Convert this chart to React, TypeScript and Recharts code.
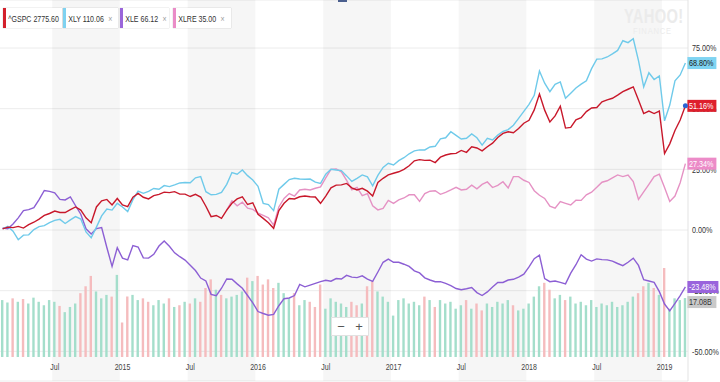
import {
  ComposedChart,
  Line,
  Bar,
  Cell,
  XAxis,
  YAxis,
  CartesianGrid,
  ReferenceArea,
  ReferenceDot,
} from "recharts";

// Biweekly closes from 2014-02-14, % change since start
const startDate = Date.UTC(2014, 1, 14);
const stepMs = 14 * 86400000;

const gspc = [
  0.5, 1.2, 1.0, 1.5, 0.8, 2.2, 3.2, 4.5, 6.0, 6.8,
  7.8, 7.2, 7.2, 8.4, 9.5, 8.2, 5.0, 3.0, 9.5, 12.0,
  12.6, 10.3, 13.0, 10.3, 9.6, 13.5, 15.1, 13.5, 12.8, 14.2,
  14.7, 15.6, 15.4, 15.8, 14.8, 14.8, 13.8, 14.7, 13.6, 9.8,
  5.5, 6.0, 4.8, 8.2, 11.0, 12.8, 13.7, 10.5, 11.2, 6.5,
  4.8, 3.0, 0.7, 8.0, 11.0, 13.0, 12.8, 13.7, 14.0, 13.7,
  13.6, 11.0, 14.0, 17.4, 18.5, 18.6, 19.2, 17.4, 16.5, 17.2,
  16.0, 14.0, 19.6, 21.3, 22.7, 23.4, 24.0, 25.0, 26.5, 28.5,
  29.0, 28.7, 28.8, 27.8, 30.0, 30.9, 31.4, 31.6, 32.8, 32.0,
  34.3, 33.8, 32.6, 34.3, 35.8, 38.1, 39.8, 40.5, 40.1, 41.8,
  44.0, 45.2, 49.5, 56.0, 49.4, 44.5, 47.0, 51.0, 42.0, 42.3,
  45.4, 46.3, 48.8, 50.3, 50.5, 52.8, 53.6, 54.3, 55.6, 57.0,
  58.0, 59.0, 53.6, 48.0, 49.0, 48.0, 49.0, 31.5, 35.5, 41.0,
  45.3, 51.16,
];

const xly = [
  0.5, 1.5, -0.5, -4.0, -2.1, -2.0, 0.2, 1.4, 1.8, 3.0,
  4.0, 4.4, 2.7, 4.2, 5.5, 4.5, -0.8, -3.2, 1.2, 5.8,
  8.6, 8.2, 11.0, 9.5, 7.6, 12.5, 16.0, 15.1, 15.9, 17.1,
  16.8, 18.3, 17.9, 18.6, 19.4, 19.6, 19.5, 21.5, 22.0, 15.8,
  14.5, 14.7, 15.5, 18.8, 23.7, 23.0, 24.7, 22.4, 20.6, 18.0,
  11.0, 10.5, 8.0, 16.8, 18.8, 20.8, 21.3, 21.0, 20.9, 21.0,
  19.7, 19.2, 23.0, 25.0, 24.7, 24.5, 22.3, 20.0, 21.3, 22.7,
  21.9, 18.2, 22.5, 25.8, 27.5, 26.8, 28.6, 29.8, 31.4, 32.6,
  33.0, 33.0, 34.2, 34.5, 37.6, 38.0, 40.5, 39.0, 37.5, 37.8,
  39.6, 38.0, 35.0, 37.8, 37.1, 39.1, 40.6, 41.4, 43.2, 46.0,
  48.9, 51.8, 55.5, 65.5, 60.5, 57.0, 60.0, 61.0, 54.3, 56.4,
  58.5, 60.1, 61.5, 66.5, 70.4, 70.5, 71.3, 72.6, 74.0, 78.0,
  77.2, 78.8, 69.8, 59.0, 64.8, 62.0, 63.5, 45.0, 51.5, 61.5,
  63.9, 68.8,
];

const xle = [
  0.8, 0.5, 2.5, 5.0, 8.0, 8.4, 9.2, 12.5, 16.3, 15.9,
  15.3, 12.6, 12.4, 13.6, 10.0, 6.5, 0.5, -1.6, 0.6, 1.0,
  -7.2, -15.0, -7.3, -11.6, -12.3, -6.4, -7.0, -11.5, -11.6, -10.0,
  -6.6, -4.5, -6.7, -9.4, -11.0, -12.4, -14.5, -16.7, -19.8, -21.0,
  -26.5, -27.1, -24.0, -20.2, -20.3, -22.2, -24.0, -27.0, -30.0, -33.6,
  -34.4, -35.1, -34.8, -31.2, -28.3, -28.0, -27.0, -22.4, -23.4, -22.7,
  -22.0, -21.3, -20.7, -21.1, -20.0, -20.2, -18.7, -19.4, -19.6, -18.9,
  -20.2, -21.2, -17.3, -13.3, -12.0, -13.3, -13.3, -14.1, -15.0, -16.8,
  -17.7, -19.7, -20.6, -21.3, -21.3, -22.0, -22.9, -24.1, -24.6, -24.2,
  -23.7, -25.8, -27.0, -25.5, -23.5, -21.6, -21.6, -20.6, -20.3, -19.4,
  -18.2, -15.2, -11.8, -10.4, -20.0, -21.3, -21.0, -21.6, -22.2, -17.8,
  -14.3, -10.2, -12.0, -12.8, -11.9, -12.2, -12.3, -12.8, -13.8, -14.7,
  -13.3, -11.6, -14.6, -20.5, -21.0, -21.6, -25.4, -30.5, -33.3, -30.2,
  -27.0, -23.48,
];

// XLRE only trades from Oct 2015 (point 43 onwards)
const xlreStart = 43;
const xlreValues = [
  8.2, 12.0, 10.0, 11.5, 9.0, 8.5, 7.0,
  6.0, 5.0, 2.0, 9.5, 13.0, 15.0, 14.0, 16.5, 16.8, 16.5,
  17.2, 17.8, 21.5, 25.0, 25.2, 24.0, 20.5, 16.6, 17.6, 14.2,
  15.0, 10.0, 8.3, 8.9, 12.2, 11.0, 12.4, 13.2, 14.5, 14.5,
  11.8, 15.0, 16.0, 16.2, 14.7, 15.5, 16.5, 17.6, 16.5, 16.8,
  18.5, 17.0, 18.8, 19.8, 17.5, 18.4, 19.9, 17.3, 22.0, 22.0,
  20.5, 19.6, 16.2, 14.3, 13.0, 9.8, 9.0, 11.7, 11.0, 10.3,
  12.3, 12.2, 14.5, 15.6, 17.6, 19.7, 20.3, 21.5, 22.7, 22.0,
  22.6, 20.0, 12.6, 15.7, 18.8, 22.0, 23.0, 17.5, 11.8, 14.0,
  19.5, 27.34,
];

// ^GSPC volume, billions
const volume = [
  16.5, 15.8, 17.0, 16.0, 16.8, 15.5, 17.2, 16.0, 15.0, 16.5,
  16.0, 14.8, 13.0, 14.5, 15.5, 18.5, 20.5, 23.5, 19.0, 17.0,
  18.0, 17.5, 23.8, 10.0, 17.5, 18.0, 16.5, 17.0, 16.0, 15.0,
  16.5, 15.5, 17.0, 14.5, 15.0, 16.0, 15.5, 17.0, 16.0, 20.0,
  22.5, 19.5, 18.0, 17.0, 17.5, 18.0, 19.0, 23.0, 22.0, 23.5,
  21.0, 22.5, 20.0, 21.5, 18.5, 17.0, 18.5, 15.0, 16.5, 16.0,
  14.5, 21.0, 14.0, 17.0, 16.0, 15.5, 14.5, 16.0, 15.0, 15.5,
  20.5, 22.0, 19.0, 17.5, 16.0, 12.0, 16.5, 17.0, 15.5, 16.0,
  15.0, 17.5, 16.5, 14.5, 16.5, 15.5, 16.0, 14.0, 15.0, 16.5,
  14.0, 15.5, 13.5, 15.5, 14.5, 16.0, 15.5, 16.5, 15.0, 13.5,
  14.0, 15.5, 17.5, 20.5, 21.5, 19.5, 17.0, 18.0, 16.5, 17.5,
  15.5, 16.0, 15.0, 16.5, 14.5, 15.5, 15.0, 16.0, 14.5, 15.0,
  16.0, 17.5, 18.5, 20.5, 21.5, 20.0, 18.0, 25.8, 14.0, 17.0,
  16.5, 17.08,
];

const yTicks = [-50, -25, 0, 25, 50, 75];
const xTickTargets = [
  ["2014-07-01", "Jul"],
  ["2015-01-01", "2015"],
  ["2015-07-01", "Jul"],
  ["2016-01-01", "2016"],
  ["2016-07-01", "Jul"],
  ["2017-01-01", "2017"],
  ["2017-07-01", "Jul"],
  ["2018-01-01", "2018"],
  ["2018-07-01", "Jul"],
  ["2019-01-01", "2019"],
];

const legendItems = [
  { name: "^GSPC", value: "2775.60", color: "#d3202c", closable: false },
  { name: "XLY", value: "110.06", color: "#7fd2f0", closable: true },
  { name: "XLE", value: "66.12", color: "#9a66da", closable: true },
  { name: "XLRE", value: "35.00", color: "#ea8cc7", closable: true },
];

const dates = gspc.map((_, i) =>
  new Date(startDate + i * stepMs).toISOString().slice(0, 10),
);
const indexOf = (d: string) =>
  Math.round((Date.parse(d) - startDate) / stepMs);

const rows = dates.map((date, i) => ({
  date,
  gspc: gspc[i],
  xly: xly[i],
  xle: xle[i],
  xlre: i >= xlreStart ? xlreValues[i - xlreStart] : null,
  volume: volume[i],
}));

const tickLabels: Record<string, string> = {};
xTickTargets.forEach(([d, label]) => {
  tickLabels[dates[indexOf(d)]] = label;
});
const xTicks = Object.keys(tickLabels);

// shaded second half of each year
const bands = xTickTargets
  .filter(([, l]) => l === "Jul")
  .map(([d]) => {
    const a = indexOf(d);
    const b = Math.min(
      indexOf(`${Number(d.slice(0, 4)) + 1}-01-01`) - 1,
      dates.length - 1,
    );
    return [dates[a], dates[b]];
  });

const RED = "#c8182b";
const BLUE = "#6fcaea";
const PURPLE = "#8c5fd4";
const PINK = "#e592c4";
const FONT = "'Liberation Sans', Arial, sans-serif";
const PCT_DOMAIN: [number, number] = [-62.22, 94.78];
const VOL_DOMAIN: [number, number] = [-6.96, 103.48];

function XTick(props: any) {
  const { x, y, payload } = props;
  return (
    <text
      transform={`translate(${x},${y - 11.5}) scale(0.74,1)`}
      textAnchor="middle"
      fontSize={9.5}
      fill="#444"
    >
      {tickLabels[payload.value]}
    </text>
  );
}

function YTick(props: any) {
  const { x, y, payload } = props;
  return (
    <text
      transform={`translate(${x},${y + 3.3}) scale(0.76,1)`}
      textAnchor="start"
      fontSize={9.5}
      fill="#333"
    >
      {Number(payload.value).toFixed(2)}%
    </text>
  );
}

function makeTag(label: string, bg: string, fg: string, dy = 0) {
  return (props: any) => {
    const { cx, cy } = props;
    const w = label.length > 6 ? 31 : 29;
    return (
      <g>
        <rect x={cx + 2} y={cy - 6 + dy} width={w} height={12} fill={bg} />
        <text
          transform={`translate(${cx + 3.5},${cy + 3.3 + dy}) scale(0.76,1)`}
          fontSize={9.5}
          fill={fg}
        >
          {label}
        </text>
      </g>
    );
  };
}

export default function App() {
  const last = dates[dates.length - 1];
  const lastOf = (a: number[]) => a[a.length - 1];
  const legendWidths = [59, 55, 49, 58];
  const legendLefts = [3, 63, 120, 173];

  return (
    <div
      style={{
        position: "absolute",
        left: 0,
        top: 0,
        width: 720,
        height: 382,
        background: "#fff",
        fontFamily: FONT,
        overflow: "hidden",
      }}
    >
      <ComposedChart
        width={720}
        height={382}
        data={rows}
        margin={{ top: 0, right: 0, bottom: 0, left: 0 }}
      >
        {bands.map(([a, b]) => (
          <ReferenceArea
            key={a}
            x1={a}
            x2={b}
            yAxisId="pct"
            fill="#000"
            fillOpacity={0.035}
            stroke="none"
          />
        ))}
        <CartesianGrid vertical={false} yAxisId="pct" stroke="#ececec" />
        <XAxis
          dataKey="date"
          scale="band"
          ticks={xTicks}
          interval={0}
          tick={XTick}
          tickLine={false}
          axisLine={false}
          tickSize={0}
          tickMargin={0}
          height={1}
        />
        <YAxis
          yAxisId="pct"
          orientation="right"
          domain={PCT_DOMAIN}
          ticks={yTicks}
          allowDataOverflow
          width={32}
          tickSize={0}
          tickMargin={4}
          tickLine={false}
          axisLine={{ stroke: "#e3e3e3" }}
          tick={YTick}
        />
        <YAxis yAxisId="vol" hide domain={VOL_DOMAIN} allowDataOverflow />
        <Bar
          yAxisId="vol"
          dataKey="volume"
          barSize={2.4}
          isAnimationActive={false}
        >
          {volume.map((_, i) => (
            <Cell
              key={i}
              fill={i > 0 && gspc[i] < gspc[i - 1] ? "#f5bcbe" : "#a4decb"}
            />
          ))}
        </Bar>
        <Line
          yAxisId="pct"
          dataKey="xle"
          stroke={PURPLE}
          strokeWidth={1.4}
          dot={false}
          activeDot={false}
          isAnimationActive={false}
        />
        <Line
          yAxisId="pct"
          dataKey="xlre"
          stroke={PINK}
          strokeWidth={1.4}
          dot={false}
          activeDot={false}
          isAnimationActive={false}
        />
        <Line
          yAxisId="pct"
          dataKey="xly"
          stroke={BLUE}
          strokeWidth={1.4}
          dot={false}
          activeDot={false}
          isAnimationActive={false}
        />
        <Line
          yAxisId="pct"
          dataKey="gspc"
          stroke={RED}
          strokeWidth={1.4}
          dot={false}
          activeDot={false}
          isAnimationActive={false}
        />
      </ComposedChart>

      {/* last-value tags, drawn above the axis labels with the same scales */}
      <div style={{ position: "absolute", left: 0, top: 0, pointerEvents: "none" }}>
        <ComposedChart
          width={720}
          height={382}
          data={rows}
          margin={{ top: 0, right: 32, bottom: 1, left: 0 }}
        >
          <XAxis dataKey="date" scale="band" hide />
          <YAxis yAxisId="pct" hide domain={PCT_DOMAIN} allowDataOverflow />
          <YAxis yAxisId="vol" hide domain={VOL_DOMAIN} allowDataOverflow />
          <ReferenceDot
            yAxisId="pct"
            x={last}
            y={lastOf(xly)}
            ifOverflow="visible"
            shape={makeTag(`${lastOf(xly).toFixed(2)}%`, "#7fd4f2", "#1b1b1b")}
          />
          <ReferenceDot
            yAxisId="pct"
            x={last}
            y={lastOf(gspc)}
            ifOverflow="visible"
            shape={makeTag(`${lastOf(gspc).toFixed(2)}%`, "#de1f2c", "#fff")}
          />
          <ReferenceDot
            yAxisId="pct"
            x={last}
            y={lastOf(xlreValues)}
            ifOverflow="visible"
            shape={makeTag(`${lastOf(xlreValues).toFixed(2)}%`, "#ec8bc8", "#fff")}
          />
          <ReferenceDot
            yAxisId="pct"
            x={last}
            y={lastOf(xle)}
            ifOverflow="visible"
            shape={makeTag(`${lastOf(xle).toFixed(2)}%`, "#9a63dc", "#fff")}
          />
          <ReferenceDot
            yAxisId="vol"
            x={last}
            y={lastOf(volume)}
            ifOverflow="visible"
            shape={makeTag(`${lastOf(volume).toFixed(2)}B`, "#c9c9c9", "#333", 4)}
          />
          <ReferenceDot
            yAxisId="pct"
            x={last}
            y={lastOf(gspc)}
            r={2.5}
            fill="#2a63d4"
            stroke="none"
            ifOverflow="visible"
          />
        </ComposedChart>
      </div>

      {legendItems.map((item, i) => (
        <div
          key={item.name}
          style={{
            position: "absolute",
            left: legendLefts[i],
            top: 8,
            width: legendWidths[i],
            height: 20,
            boxSizing: "border-box",
            background: "#fff",
            borderLeft: `3px solid ${item.color}`,
            boxShadow: "0 0 1px rgba(0,0,0,0.3)",
            overflow: "hidden",
          }}
        >
          <span
            style={{
              display: "inline-block",
              whiteSpace: "nowrap",
              lineHeight: "20px",
              fontSize: 9.5,
              color: "#333",
              paddingLeft: 3,
              transform: "scaleX(0.74)",
              transformOrigin: "left center",
            }}
          >
            {item.name} {item.value}
            {item.closable && (
              <span style={{ color: "#999", marginLeft: 6 }}>×</span>
            )}
          </span>
        </div>
      ))}

      <div
        style={{
          position: "absolute",
          left: 338,
          top: 0,
          width: 9,
          height: 2,
          background: "#4b5f8e",
        }}
      />

      <div
        style={{
          position: "absolute",
          left: 624,
          top: 4,
          fontSize: 21,
          fontWeight: 700,
          color: "#ebebeb",
          transform: "scaleX(0.7)",
          transformOrigin: "left top",
          letterSpacing: 0.5,
        }}
      >
        YAHOO!
      </div>
      <div
        style={{
          position: "absolute",
          left: 633,
          top: 25,
          fontSize: 9.5,
          color: "#ececec",
          letterSpacing: 1,
          transform: "scaleX(0.8)",
          transformOrigin: "left top",
        }}
      >
        FINANCE
      </div>

      <div
        style={{
          position: "absolute",
          left: 331,
          top: 317,
          width: 38,
          height: 19,
          boxSizing: "border-box",
          background: "#fff",
          border: "1px solid #e2e2e2",
          display: "flex",
          justifyContent: "space-around",
          alignItems: "center",
          fontSize: 13,
          color: "#555",
        }}
      >
        <span>−</span>
        <span>+</span>
      </div>
    </div>
  );
}
